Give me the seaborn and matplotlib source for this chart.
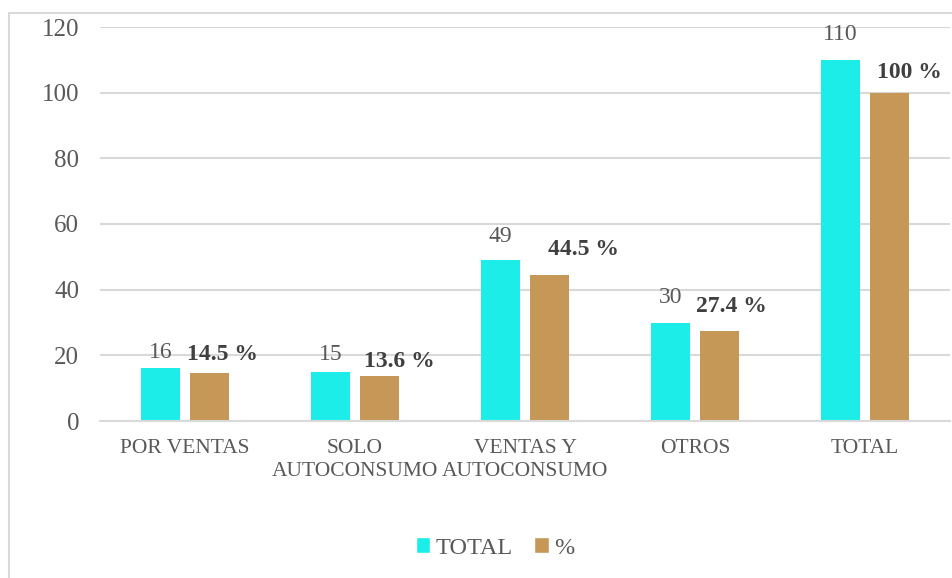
import pandas as pd
import seaborn as sns
import matplotlib.pyplot as plt
from matplotlib.patches import Rectangle, Patch

categories = ["POR VENTAS", "SOLO\nAUTOCONSUMO", "VENTAS Y\nAUTOCONSUMO", "OTROS", "TOTAL"]
totals = [16, 15, 49, 30, 110]
percents = [14.5, 13.6, 44.5, 27.4, 100]
series = ["TOTAL", "%"]

CYAN = '#1CEDE8'
TAN = '#C69858'
GRID = '#D9D9D9'
TEXT = '#595959'

df = pd.DataFrame({
    'cat': categories * 2,
    'serie': [series[0]] * len(categories) + [series[1]] * len(categories),
    'value': totals + percents,
})

sns.set_style('white')
plt.rcParams['font.family'] = ['Liberation Serif', 'DejaVu Serif']

fig = plt.figure(figsize=(9.52, 5.78), dpi=100)
# outer chart frame (cut off on the right and bottom like the source)
fig.patches.append(Rectangle((9 / 952, -0.1), 2, 1.1 - 13 / 578, transform=fig.transFigure,
                             fill=False, edgecolor=GRID, linewidth=1.5))

ax = fig.add_axes([100 / 952, 1 - 421 / 578, 850 / 952, (421 - 27) / 578])
sns.barplot(data=df, x='cat', y='value', hue='serie', palette=[CYAN, TAN], saturation=1,
            width=0.576, gap=0.22, linewidth=0, legend=False, ax=ax)

ax.set_ylim(0, 120)
ax.set_xlim(-0.5, 4.5)
ax.set_yticks(range(0, 121, 20))
ax.yaxis.grid(True, color=GRID, linewidth=1.5)
ax.set_axisbelow(True)
for s in ['top', 'right', 'left']:
    ax.spines[s].set_visible(False)
ax.spines['bottom'].set_color(GRID)
ax.spines['bottom'].set_linewidth(1.5)
ax.tick_params(axis='y', length=0, pad=15, labelsize=18, labelcolor=TEXT)
ax.tick_params(axis='x', length=0, pad=13, labelsize=15.5, labelcolor=TEXT)
ax.set_xlabel('')
ax.set_ylabel('')
for t in ax.get_xticklabels():
    t.set_linespacing(1.3)

# data labels (hand-placed like the original)
total_offsets = [(0, 16), (0, 17), (0, 24), (0, 25), (0, 25)]
pct_offsets = [(13, 19), (20, 15), (34, 25), (12, 25), (20, 20)]
for bar, v, (dx, dy) in zip(ax.containers[0], totals, total_offsets):
    ax.annotate(f'{v}', (bar.get_x() + bar.get_width() / 2, bar.get_height()),
                xytext=(dx, dy), textcoords='offset pixels', ha='center', va='center',
                fontsize=17, color=TEXT)
for bar, v, (dx, dy) in zip(ax.containers[1], percents, pct_offsets):
    ax.annotate(f'{v:g} %', (bar.get_x() + bar.get_width() / 2, bar.get_height()),
                xytext=(dx, dy), textcoords='offset pixels', ha='center', va='center',
                fontsize=17, fontweight='bold', color='#404040')

handles = [Patch(facecolor=CYAN, label=series[0]), Patch(facecolor=TAN, label=series[1])]
fig.legend(handles=handles, loc='center', bbox_to_anchor=(495 / 952, 1 - 548 / 578), ncol=2,
           frameon=False, fontsize=17.5, labelcolor=TEXT, handlelength=0.6, handleheight=0.6,
           handletextpad=0.2, columnspacing=0.9)

fig.savefig('out.png', dpi=100)
